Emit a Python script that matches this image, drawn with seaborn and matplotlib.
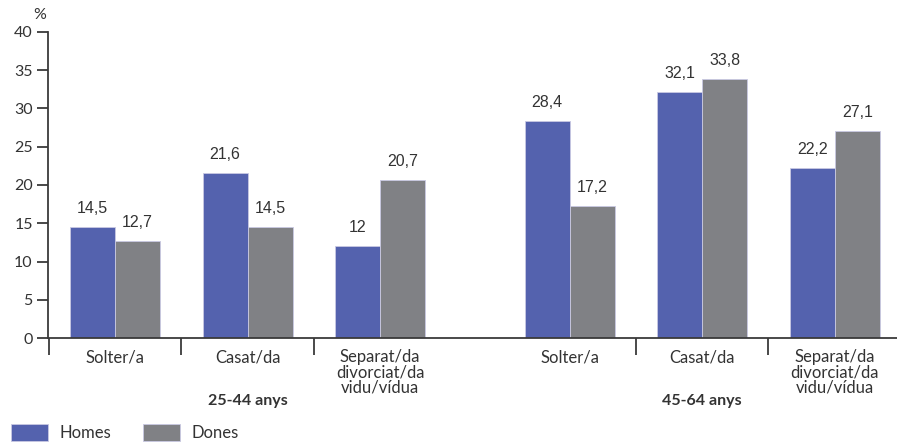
import matplotlib
matplotlib.use("Agg")
import matplotlib.pyplot as plt
from matplotlib.patches import Patch
from matplotlib.transforms import blended_transform_factory
import seaborn as sns
import pandas as pd

# Marital status by age group and sex (%)
categories = ["Solter/a", "Casat/da", "Separat/da\ndivorciat/da\nvidu/vídua"]
age_groups = ["25-44 anys", "45-64 anys"]
homes = [14.5, 21.6, 12.0, 28.4, 32.1, 22.2]
dones = [12.7, 14.5, 20.7, 17.2, 33.8, 27.1]
value_labels_homes = ["14,5", "21,6", "12", "28,4", "32,1", "22,2"]
value_labels_dones = ["12,7", "14,5", "20,7", "17,2", "33,8", "27,1"]
series = ["Homes", "Dones"]
colors = {"Homes": "#5462ae", "Dones": "#808185"}

# x positions: two groups of three categories, with a wider gap between groups
positions = [0.0, 1.0, 2.0, 3.43, 4.43, 5.43]
separators = [-0.5, 0.5, 1.5, 3.93, 4.93]

df = pd.DataFrame({
    "pos": positions * 2,
    "value": homes + dones,
    "sexe": ["Homes"] * 6 + ["Dones"] * 6,
})

sns.set_style("white")
plt.rcParams["font.family"] = ["Lato", "DejaVu Sans"]

fig = plt.figure(figsize=(8.97, 4.43), dpi=100)
ax = fig.add_axes([48 / 897, 105 / 443, 849 / 897, 306 / 443])

sns.barplot(data=df, x="pos", y="value", hue="sexe", hue_order=series,
            palette=colors, native_scale=True, width=0.68, errorbar=None,
            legend=False, saturation=1, edgecolor="#c9c9e3", linewidth=0.6,
            ax=ax)

ax.set_xlim(-0.506, 5.9)
ax.set_ylim(0, 40)
ax.set_yticks(range(0, 41, 5))
ax.set_xlabel("")
ax.set_ylabel("")

axis_color = "#3a3a3a"
for side in ("top", "right"):
    ax.spines[side].set_visible(False)
for side in ("left", "bottom"):
    ax.spines[side].set_color(axis_color)
    ax.spines[side].set_linewidth(1.3)

ax.tick_params(axis="y", direction="out", length=8, width=1.3, color=axis_color,
               labelsize=11.5, labelcolor="#333333", pad=3, left=True)

# category labels centered under each pair, separator ticks between them
ax.set_xticks(positions)
ax.set_xticklabels(categories * 2, fontsize=12, color="#333333", linespacing=0.93,
                   va="top")
ax.tick_params(axis="x", which="major", length=0, pad=8)
ax.set_xticks(separators, minor=True)
ax.tick_params(axis="x", which="minor", direction="out", length=12, width=1.3,
               color=axis_color, bottom=True)

# value labels above the bars
for container, labels in zip(ax.containers, [value_labels_homes, value_labels_dones]):
    ax.bar_label(container, labels=labels, padding=8, fontsize=11.5,
                 color="#333333", family=["Liberation Sans", "DejaVu Sans"])

# age group titles
trans = blended_transform_factory(ax.transData, ax.transAxes)
group_centers = [sum(positions[:3]) / 3, sum(positions[3:]) / 3]
for center, name in zip(group_centers, age_groups):
    ax.text(center, -0.206, name, transform=trans, ha="center", va="center",
            fontsize=11.5, fontweight="bold", color="#333333")

fig.text(40 / 897, 1 - 15 / 443, "%", ha="center", va="center",
         fontsize=11.5, color="#333333")

handles = [Patch(facecolor=colors[s], edgecolor="#c9c9e3", linewidth=0.6, label=s)
           for s in series]
fig.legend(handles=handles, loc="lower left", bbox_to_anchor=(-0.004, -0.03),
           ncol=2, frameon=False, fontsize=12, handlelength=2.2,
           handleheight=1.25, handletextpad=0.7, columnspacing=1.9,
           labelcolor="#333333")

fig.savefig("out.png", dpi=100)
